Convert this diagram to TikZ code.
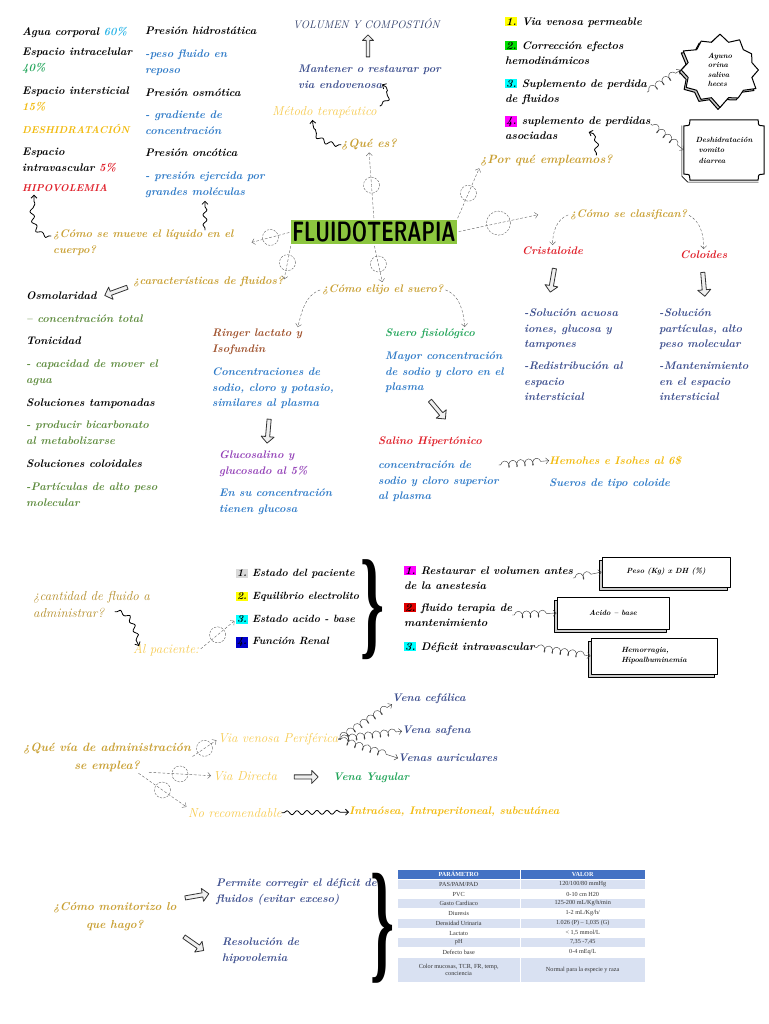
\documentclass[tikz,border=0pt]{standalone}
\usepackage{fontspec}
\usepackage{graphicx}
\newfontfamily\tablafont{Liberation Serif}
\usetikzlibrary{arrows.meta,calc,decorations.pathmorphing,shapes.arrows,shapes.symbols,shadows}

\definecolor{cgold}{HTML}{C9A033}
\definecolor{cgoldd}{HTML}{B48C26}
\definecolor{cyel}{HTML}{F7CB50}
\definecolor{cdesh}{HTML}{F2BA0C}
\definecolor{cblue}{HTML}{2F7BC8}
\definecolor{cnavy}{HTML}{3D4F8E}
\definecolor{cnavyd}{HTML}{2B3A67}
\definecolor{colive}{HTML}{5E8C3E}
\definecolor{cgreen}{HTML}{22A55A}
\definecolor{cred}{HTML}{E0202A}
\definecolor{cbrown}{HTML}{A0522D}
\definecolor{cpurple}{HTML}{9442B8}
\definecolor{ccyan}{HTML}{2BB5E8}
\definecolor{cfluo}{HTML}{8CC63F}
\definecolor{thead}{HTML}{4472C4}
\definecolor{trow}{HTML}{D9E1F2}
\definecolor{hlyellow}{HTML}{FFFF00}
\definecolor{hlgreen}{HTML}{00E000}
\definecolor{hlcyan}{HTML}{00FFFF}
\definecolor{hlmagenta}{HTML}{FF00FF}
\definecolor{hlred}{HTML}{E00000}
\definecolor{hlblue}{HTML}{0000CC}
\definecolor{hlgray}{HTML}{D9D9D9}

\newcommand\handfont{\fontsize{11}{15.5}\selectfont\bfseries\itshape}
\newcommand\qfont{\fontsize{11}{15.5}\selectfont\bfseries\itshape}
\newcommand\bigqfont{\fontsize{12}{18}\selectfont\bfseries\itshape}
\newcommand\thinfont{\fontsize{13}{17}\selectfont\itshape}
\newcommand\capsfont{\fontsize{10}{12}\selectfont\bfseries\itshape}
\newcommand\hl[2]{{\setlength{\fboxsep}{0.8pt}\colorbox{#1}{#2}}}

\tikzset{
	txt/.style={anchor=north west, inner sep=0pt, align=left, font=\handfont},
	negro/.style={txt, text=black},
	azul/.style={txt, text=cblue},
	marino/.style={txt, text=cnavy},
	oliva/.style={txt, text=colive},
	verde/.style={txt, text=cgreen},
	rojo/.style={txt, text=cred},
	cafe/.style={txt, text=cbrown},
	morado/.style={txt, text=cpurple},
	mayus/.style={txt, font=\capsfont},
	pregunta/.style={txt, text=cgold, font=\qfont},
	grande/.style={txt, text=cgold, font=\bigqfont},
	tenue/.style={txt, text=cyel, font=\thinfont},
	guia/.style={draw=gray!75!black, dash pattern=on 2.5pt off 2pt, ->, shorten >=2pt, shorten <=2pt},
	rizo/.style={circle, draw=gray!75!black, dash pattern=on 2pt off 1.5pt, minimum size=16pt, inner sep=0pt},
	muelle/.style={draw=gray!40!black, ->, decorate, decoration={coil, amplitude=3.5pt, segment length=8pt, aspect=0.6, pre length=2pt, post length=5pt}},
	culebra/.style={draw=black, thick, ->, decorate, decoration={snake, amplitude=2pt, segment length=10pt, pre length=2pt, post length=5pt}},
	flecha/.style={single arrow, draw=black!80, line width=.8pt, fill=gray!12, minimum height=24pt, minimum width=13pt, single arrow head extend=3pt, inner sep=1pt},
	caja/.style={draw=black, line width=1pt, fill=white, font=\fontsize{7.5}{10}\selectfont\bfseries\itshape, copy shadow={shadow xshift=-3pt, shadow yshift=-3pt, fill=gray!40, draw=black, line width=.6pt}},
	celda/.style={anchor=north west, inner sep=0pt, minimum width=123pt, minimum height=9.8pt, draw=white, line width=.4pt, text=black!80, font=\tablafont\fontsize{6.2}{7}\selectfont},
}

\begin{document}
\begin{tikzpicture}[x=1pt, y=-1pt, line join=round, line cap=round, >={Straight Barb[length=3pt,width=6pt]}]
	\useasboundingbox (0,0) rectangle (768,1024);
	\fill[white] (0,0) rectangle (768,1024);

	% centro
	\node[fill=cfluo, inner xsep=1pt, inner ysep=1.5pt, font=\sffamily\bfseries\fontsize{28}{28}\selectfont] (flu) at (374,232) {\scalebox{0.69}[1]{FLUIDOTERAPIA}};

	% como se mueve el liquido
	\node[negro] (agua) at (22,27) {Agua corporal {\color{ccyan}60\%}};
	\node[negro] (intra) at (22,48) {Espacio intracelular\\{\color{cgreen}40\%}};
	\node[negro] (inter) at (22,87) {Espacio intersticial\\{\color{cdesh}15\%}};
	\node[mayus, text=cdesh] (deshi) at (22,124) {DESHIDRATACIÓN};
	\node[negro] (intrav) at (22,148) {Espacio\\intravascular {\color{cred}5\%}};
	\node[mayus, text=cred] (hipo) at (22,184) {HIPOVOLEMIA};
	\node[negro] (phid) at (145,27) {Presión hidrostática};
	\node[azul] (peso) at (145,50) {-peso fluido en\\reposo};
	\node[negro] (posm) at (145,89) {Presión osmótica};
	\node[azul] (grad) at (145,111) {- gradiente de\\concentración};
	\node[negro] (ponc) at (145,149) {Presión oncótica};
	\node[azul] (pres) at (145,172) {- presión ejercida por\\grandes moléculas};
	\node[pregunta] (qmueve) at (53,230) {¿Cómo se mueve el líquido en el\\cuerpo?};
	\draw[culebra] ([xshift=-2pt,yshift=-6pt]qmueve.north west) to[out=180,in=-90] ([xshift=12pt,yshift=-3pt]hipo.south west);
	\draw[culebra] (pres.south |- qmueve.north) -- ([yshift=-3pt]pres.south);

	% que es
	\node[txt, font=\fontsize{11}{12}\selectfont\itshape, text=cnavyd] (volu) at (293,18) {VOLUMEN Y COMPOSTIÓN};
	\node[marino] (mant) at (298,65) {Mantener o restaurar por\\via endovenosa};
	\node[tenue] (metodo) at (272,106) {Método terapéutico};
	\node[grande] (quees) at (341,139) {¿Qué es?};
	\node[flecha, rotate=90, minimum height=22pt, minimum width=11pt] (fvol) at ($(volu.south)!.5!(mant.north)$) {};
	\draw[culebra] ([xshift=3pt]metodo.north east) to[out=20,in=0] ($(mant.south west)+(84,-4)$);
	\draw[culebra] (quees.west) to[out=180,in=-90] ([xshift=-12pt,yshift=-2pt]metodo.south);

	% por que empleamos
	\node[negro] (v1) at (505,17) {\hl{hlyellow}{1.} Via venosa permeable};
	\node[negro] (v2) at (505,41) {\hl{hlgreen}{2.} Corrección efectos\\hemodinámicos};
	\node[negro] (v3) at (505,79) {\hl{hlcyan}{3.} Suplemento de perdida\\de fluidos};
	\node[negro] (v4) at (505,116) {\hl{hlmagenta}{4.} suplemento de perdidas\\asociadas};
	\node[grande] (qpor) at (480,155) {¿Por qué empleamos?};
	\node[starburst, draw, line width=1pt, fill=white, starburst points=12, starburst point height=10pt, minimum width=86pt, minimum height=76pt, align=left, font=\fontsize{7.5}{9.5}\selectfont\bfseries\itshape, copy shadow={shadow xshift=-2pt, shadow yshift=-2pt, fill=gray!40, draw=black}] (burst) at (720,70) {Ayuno\\orina\\saliva\\heces};
	\node[align=left, inner sep=0pt, minimum width=80pt, minimum height=60pt, font=\fontsize{7.5}{10.5}\selectfont\bfseries\itshape] (dbox) at (724,150) {Deshidratación\\\ vomito\\\ diarrea};
	\draw[line width=1pt, fill=white] ([xshift=6pt]dbox.north west) -- ([xshift=-6pt]dbox.north east) .. controls ([xshift=-6pt,yshift=-6pt]dbox.north east) .. ([yshift=-6pt]dbox.north east) -- ([yshift=6pt]dbox.south east) .. controls ([xshift=-6pt,yshift=6pt]dbox.south east) .. ([xshift=-6pt]dbox.south east) -- ([xshift=6pt]dbox.south west) .. controls ([xshift=6pt,yshift=6pt]dbox.south west) .. ([yshift=6pt]dbox.south west) -- ([yshift=-6pt]dbox.north west) .. controls ([xshift=6pt,yshift=-6pt]dbox.north west) .. cycle;
	\draw[line width=.6pt] ([xshift=-2pt,yshift=-6pt]dbox.north west) -- ([xshift=-2pt,yshift=4pt]dbox.south west) -- ([xshift=4pt,yshift=-2pt]dbox.south west) -- ([xshift=-6pt,yshift=-2pt]dbox.south east);
	\node[align=left, inner sep=0pt, font=\fontsize{7.5}{10.5}\selectfont\bfseries\itshape] at (dbox) {Deshidratación\\\ vomito\\\ diarrea};
	\draw[muelle] (v3.east) -- (burst.west);
	\draw[muelle] ([yshift=4pt]v4.east) -- (dbox.west);
	\draw[culebra] ([xshift=50pt]qpor.north) to[out=90,in=0] ([xshift=-62pt,yshift=8pt]v4.south east);

	% como se clasifican
	\node[pregunta] (qclas) at (570,209) {¿Cómo se clasifican?};
	\node[rojo] (cris) at (522,247) {Cristaloide};
	\node[rojo] (colo) at (680,251) {Coloides};
	\node[marino] (crisd) at (524,309) {-Solución acuosa\\iones, glucosa y\\tampones};
	\node[marino] (crisr) at (524,362) {-Redistribución al\\espacio\\intersticial};
	\node[marino] (colod) at (659,309) {-Solución\\partículas, alto\\peso molecular};
	\node[marino] (colom) at (659,362) {-Mantenimiento\\en el espacio\\intersticial};
	\draw[guia] (qclas.west) to[out=200,in=90] (cris.north);
	\draw[guia] (qclas.east) to[out=-30,in=90] (colo.north);
	\node[flecha, rotate=-100] (fcris) at ([yshift=-24pt]cris.south) {};
	\node[flecha, rotate=-85] (fcolo) at ([yshift=-24pt]colo.south) {};

	% caracteristicas de fluidos
	\node[pregunta] (qcar) at (133,276) {¿características de fluidos?};
	\node[negro] (osmo) at (26,292) {Osmolaridad};
	\node[oliva] (osmod) at (26,315) {– concentración total};
	\node[negro] (toni) at (26,337) {Tonicidad};
	\node[oliva] (tonid) at (26,360) {- capacidad de mover el\\agua};
	\node[negro] (tamp) at (26,399) {Soluciones tamponadas};
	\node[oliva] (tampd) at (26,421) {- producir bicarbonato\\al metabolizarse};
	\node[negro] (coloi) at (26,460) {Soluciones coloidales};
	\node[oliva] (coloid) at (26,483) {-Partículas de alto peso\\molecular};
	\node[flecha, rotate=200] (fcar) at (117,291) {};

	% como elijo el suero
	\node[pregunta] (qelijo) at (322,284) {¿Cómo elijo el suero?};
	\node[cafe] (ringer) at (212,329) {Ringer lactato y\\Isofundin};
	\node[azul] (ringd) at (212,368) {Concentraciones de\\sodio, cloro y potasio,\\similares al plasma};
	\node[morado] (gluco) at (219,451) {Glucosalino y\\glucosado al 5\%};
	\node[azul] (glucod) at (219,489) {En su concentración\\tienen glucosa};
	\node[verde] (suero) at (385,329) {Suero fisiológico};
	\node[azul] (suerod) at (385,352) {Mayor concentración\\de sodio y cloro en el\\plasma};
	\node[rojo] (salino) at (378,437) {Salino Hipertónico};
	\node[azul] (salinod) at (378,461) {concentración de\\sodio y cloro superior\\al plasma};
	\node[txt, text=cdesh] (hemo) at (549,456) {Hemohes e Isohes al 6\$};
	\node[azul] (hemod) at (549,479) {Sueros de tipo coloide};
	\draw[guia] (qelijo.west) to[out=200,in=75] ([xshift=-5pt]ringer.north east);
	\draw[guia] (qelijo.east) to[out=-20,in=95] ([xshift=-10pt]suero.north east);
	\node[flecha, rotate=-95] (fring) at ($(ringd.south)!.5!(gluco.north)$) {};
	\node[flecha, rotate=-50] (fsuero) at (437,409) {};
	\draw[muelle] ([yshift=-4pt]salinod.north east) -- (hemo.west);

	% guias desde el centro
	\draw[guia] (flu.west) -- node[rizo]{} ([xshift=16pt]qmueve.east);
	\draw[guia] (flu.north) -- node[rizo]{} (quees.south);
	\draw[guia] (flu.north east) -- node[rizo]{} (qpor.south west);
	\draw[guia] (flu.east) -- node[rizo, minimum width=24pt]{} ([xshift=-30pt]qclas.west);
	\draw[guia] (flu.south) -- node[rizo]{} (qelijo.north);
	\draw[guia] (flu.south west) -- node[rizo]{} (qcar.east);

	% cantidad de fluido
	\node[tenue, text=cgoldd] (qcant) at (33,591) {¿cantidad de fluido a\\administrar?};
	\node[tenue] (alpac) at (133,644) {Al paciente:};
	\node[txt, font=\fontsize{10.5}{15}\selectfont\bfseries\itshape] (e1) at (236,569) {\hl{hlgray}{1.} Estado del paciente};
	\node[txt, font=\fontsize{10.5}{15}\selectfont\bfseries\itshape] (e2) at (236,592) {\hl{hlyellow}{2.} Equilibrio electrolito};
	\node[txt, font=\fontsize{10.5}{15}\selectfont\bfseries\itshape] (e3) at (236,615) {\hl{hlcyan}{3.} Estado acido - base};
	\node[txt, font=\fontsize{10.5}{15}\selectfont\bfseries\itshape] (e4) at (236,637) {\hl{hlblue}{4.} Función Renal};
	\draw[culebra] ($(qcant.south west)+(82,-6)$) to[out=0,in=120] ([xshift=6pt,yshift=-2pt]alpac.north west);
	\draw[guia] (alpac.east) -- node[rizo]{} (e3.west);
	\node[inner sep=0pt] (llave1) at (372,610) {\resizebox*{24pt}{100pt}{\tablafont\bfseries\}}};
	\node[negro] (r1) at (404,566) {\hl{hlmagenta}{1.} Restaurar el volumen antes\\de la anestesia};
	\node[negro] (r2) at (404,603) {\hl{hlred}{2.} fluido terapia de\\mantenimiento};
	\node[negro] (r3) at (404,642) {\hl{hlcyan}{3.} Déficit intravascular};
	\node[caja, minimum width=128pt, minimum height=30pt] (bpeso) at (666,572) {Peso (Kg) x DH (\%)};
	\node[caja, minimum width=112pt, minimum height=32pt] (bacido) at (613,613) {Acido – base};
	\node[caja, minimum width=126pt, minimum height=36pt, align=left] (bhemo) at (654,656) {Hemorragia,\\Hipoalbuminemia};
	\draw[muelle] (r1.east) -- (bpeso.west);
	\draw[muelle] (r2.east) -- (bacido.west);
	\draw[muelle] (r3.east) -- (bhemo.west);

	% via de administracion
	\node[grande, align=center] (qvia) at (23,743) {¿Qué vía de administración\\se emplea?};
	\node[tenue] (vper) at (218,733) {Via venosa Periférica};
	\node[tenue] (vdir) at (213,771) {Via Directa};
	\node[tenue] (norec) at (188,808) {No recomendable};
	\node[marino] (vcef) at (392,694) {Vena cefálica};
	\node[marino] (vsaf) at (402,726) {Vena safena};
	\node[marino] (vaur) at (398,754) {Venas auriculares};
	\node[verde] (vyug) at (333,773) {Vena Yugular};
	\node[txt, text=cdesh] (vintra) at (349,807) {Intraósea, Intraperitoneal, subcutánea};
	\draw[guia] (qvia.east) -- node[rizo]{} (vper.west);
	\draw[guia] ([xshift=40pt]qvia.south) -- node[rizo]{} (vdir.west);
	\draw[guia] ([xshift=30pt]qvia.south) -- node[rizo]{} (norec.north west);
	\draw[muelle] (vper.east) -- (vcef.south west);
	\draw[muelle] (vper.east) -- (vsaf.west);
	\draw[muelle] (vper.east) -- (vaur.west);
	\node[flecha] (fdir) at ($(vdir.east)!.5!(vyug.west)$) {};
	\draw[culebra] (norec.east) -- (vintra.west);

	% monitorizacion
	\node[grande, align=center, font=\fontsize{11.5}{18}\selectfont\bfseries\itshape] (qmon) at (53,902) {¿Cómo monitorizo lo\\que hago?};
	\node[marino] (perm) at (216,879) {Permite corregir el déficit de\\fluidos (evitar exceso)};
	\node[marino] (resol) at (222,938) {Resolución de\\hipovolemia};
	\node[flecha, rotate=10] (fperm) at (196,896) {};
	\node[flecha, rotate=-35] (fres) at (193,943) {};
	\node[inner sep=0pt] (llave2) at (382,928) {\resizebox*{24pt}{110pt}{\tablafont\bfseries\}}};

	% tabla
	\node[celda, fill=thead, text=white, font=\tablafont\bfseries\fontsize{6.2}{7}\selectfont] (hpar) at (397,869) {PARÁMETRO};
	\node[celda, fill=thead, text=white, minimum width=125pt, font=\tablafont\bfseries\fontsize{6.2}{7}\selectfont] (hval) at (520,869) {VALOR};
	\foreach \y/\c/\a/\b in {879/trow/{PAS/PAM/PAD}/{120/100/80 mmHg}, 889/white/PVC/{0-10 cm H20}, 898/trow/{Gasto Cardiaco}/{125-200 mL/Kg/h/min}, 908/white/Diuresis/{1-2 mL/Kg/h/}, 918/trow/{Densidad Urinaria}/{1.026 (P) – 1,035 (G)}, 928/white/Lactato/{< 1,5 mmol/L}, 937/trow/pH/{7,35 -7,45}, 947/white/{Defecto base}/{0-4 mEq/L}}{
		\node[celda, fill=\c] (p\y) at (397,\y) {\a};
		\node[celda, fill=\c, minimum width=125pt] (v\y) at (520,\y) {\b};
	}
	\node[celda, fill=trow, minimum height=25pt, align=center] (p957) at (397,957) {Color mucosas, TCR, FR, temp,\\conciencia};
	\node[celda, fill=trow, minimum height=25pt, minimum width=125pt] (v957) at (520,957) {Normal para la especie y raza};
\end{tikzpicture}
\end{document}
